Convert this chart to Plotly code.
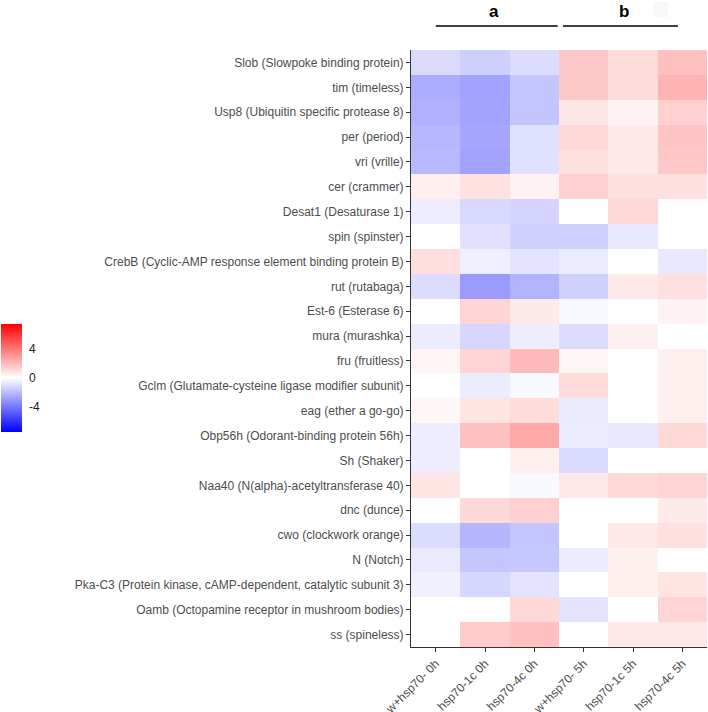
import plotly.graph_objects as go
import numpy as np

genes = [
    "Slob (Slowpoke binding protein)",
    "tim (timeless)",
    "Usp8 (Ubiquitin specific protease 8)",
    "per (period)",
    "vri (vrille)",
    "cer (crammer)",
    "Desat1 (Desaturase 1)",
    "spin (spinster)",
    "CrebB (Cyclic-AMP response element binding protein B)",
    "rut (rutabaga)",
    "Est-6 (Esterase 6)",
    "mura (murashka)",
    "fru (fruitless)",
    "Gclm (Glutamate-cysteine ligase modifier subunit)",
    "eag (ether a go-go)",
    "Obp56h (Odorant-binding protein 56h)",
    "Sh (Shaker)",
    "Naa40 (N(alpha)-acetyltransferase 40)",
    "dnc (dunce)",
    "cwo (clockwork orange)",
    "N (Notch)",
    "Pka-C3 (Protein kinase, cAMP-dependent, catalytic subunit 3)",
    "Oamb (Octopamine receptor in mushroom bodies)",
    "ss (spineless)",
]

samples = ["w+hsp70- 0h", "hsp70-1c 0h", "hsp70-4c 0h",
           "w+hsp70- 5h", "hsp70-1c 5h", "hsp70-4c 5h"]

w_0h  = [-1.07, -2.38, -2.29, -2.09, -2.03, 0.46, -0.52, 0.0, 0.96, -1.02, 0.0, -0.55,
         0.29, 0.0, 0.25, -0.52, -0.52, 0.78, 0.0, -1.02, -0.61, -0.44, 0.0, 0.0]
c1_0h = [-1.42, -2.70, -2.64, -2.58, -2.70, 0.87, -1.10, -0.87, -0.46, -2.90, 1.25, -1.19,
         1.25, -0.55, 0.78, 1.83, 0.0, 0.0, 1.13, -2.12, -1.65, -1.19, 0.0, 1.54]
c4_0h = [-1.02, -1.65, -1.71, -0.90, -0.90, 0.38, -1.25, -1.33, -0.78, -2.23, 0.61, -0.49,
         2.00, -0.20, 1.02, 2.52, 0.44, -0.20, 1.36, -1.68, -1.62, -0.78, 1.13, 1.83]
w_5h  = [1.60, 1.60, 0.73, 1.13, 0.90, 1.36, 0.0, -1.33, -0.55, -1.36, -0.20, -1.02,
         0.25, 1.02, -0.61, -0.55, -1.07, 0.67, 0.0, 0.0, -0.55, 0.0, -0.78, 0.0]
c1_5h = [1.07, 1.02, 0.38, 0.67, 0.67, 0.90, 1.13, -0.67, 0.0, 0.61, 0.0, 0.44,
         0.0, 0.0, 0.0, -0.67, 0.0, 1.13, 0.0, 0.67, 0.44, 0.44, 0.0, 0.67]
c4_5h = [1.83, 2.18, 1.36, 1.71, 1.60, 0.90, 0.0, 0.0, -0.67, 0.90, 0.38, 0.0,
         0.44, 0.44, 0.44, 1.13, 0.0, 1.25, 0.61, 0.90, 0.0, 0.78, 1.25, 0.67]

cbar_ticks = [-4, 0, 4]
zlim = 7.4

colorscale = [[0.0, "rgb(0,0,255)"], [0.5, "rgb(255,255,255)"], [1.0, "rgb(255,0,0)"]]

z = np.array([w_0h, c1_0h, c4_0h, w_5h, c1_5h, c4_5h]).T

fig = go.Figure(go.Heatmap(
    z=z, x=samples, y=genes,
    colorscale=colorscale, zmin=-zlim, zmax=zlim,
    xgap=0, ygap=0,
    colorbar=dict(
        x=-1.385, xanchor="left", xref="paper",
        y=0.451, yanchor="middle",
        thickness=21, thicknessmode="pixels",
        len=108, lenmode="pixels",
        tickvals=cbar_ticks, ticktext=[str(v) for v in cbar_ticks],
        ticks="outside", ticklen=5, tickcolor="white", tickwidth=1,
        tickfont=dict(size=12, color="#1a1a1a"),
        outlinewidth=0, ypad=0, xpad=0,
    ),
))

fig.update_layout(
    width=708, height=712,
    margin=dict(l=411, r=1, t=50, b=65, autoexpand=False),
    paper_bgcolor="white", plot_bgcolor="white",
    font=dict(family="Liberation Sans, Arial, sans-serif", size=12, color="#4d4d4d"),
    xaxis=dict(
        tickangle=-45, ticks="outside", ticklen=4, tickcolor="#333333",
        showline=True, linecolor="#333333", linewidth=1, automargin=False,
        tickfont=dict(size=12, color="#4d4d4d"), showgrid=False, zeroline=False,
    ),
    yaxis=dict(
        autorange="reversed", ticks="outside", ticklen=4, tickcolor="#333333",
        showline=True, linecolor="#333333", linewidth=1, automargin=False,
        tickfont=dict(size=12, color="#4d4d4d"), showgrid=False, zeroline=False,
    ),
    showlegend=False,
)

# group brackets
yline = (647 - 26) / 597
ylab = (647 - 11) / 597
fig.add_shape(type="line", xref="paper", yref="paper", x0=0.0837, x1=0.4955,
              y0=yline, y1=yline, line=dict(color="black", width=1.3))
fig.add_shape(type="line", xref="paper", yref="paper", x0=0.5135, x1=0.9017,
              y0=yline, y1=yline, line=dict(color="black", width=1.3))
fig.add_shape(type="rect", xref="paper", yref="paper", x0=0.819, x1=0.869,
              y0=(647 - 17) / 597, y1=(647 - 2) / 597,
              fillcolor="#f8f8f8", line=dict(width=0))
for txt, xp in [("a", 0.2803), ("b", 0.7186)]:
    fig.add_annotation(text="<b>%s</b>" % txt, xref="paper", yref="paper",
                       x=xp, y=ylab, xanchor="center", yanchor="middle", showarrow=False,
                       font=dict(size=17, color="black", family="Liberation Sans, Arial, sans-serif"))

fig.write_html("out.html", config={"displayModeBar": False},
               post_script="document.body.style.margin='0';document.body.style.overflow='hidden';")
